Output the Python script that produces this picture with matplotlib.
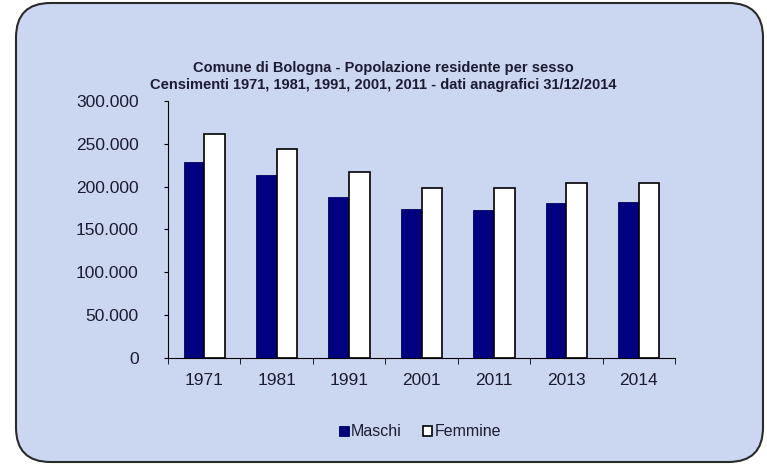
import numpy as np
import matplotlib
matplotlib.use("Agg")
from matplotlib import pyplot as plt
from matplotlib.patches import FancyBboxPatch
from matplotlib.ticker import FuncFormatter

# Data
anni = ["1971", "1981", "1991", "2001", "2011", "2013", "2014"]
maschi = [228700, 213500, 187900, 173200, 173000, 180500, 181700]
femmine = [261000, 243500, 216700, 198000, 198000, 204000, 204000]

plt.rcParams['font.family'] = ['Liberation Sans', 'DejaVu Sans']
txt = '#1c1c30'

fig = plt.figure(figsize=(7.67, 4.68), dpi=100)
fig.patch.set_facecolor('white')

# rounded background panel
bg = FancyBboxPatch((16 / 767, 6 / 468), 747 / 767, 459 / 468,
                    boxstyle="round,pad=0,rounding_size=0.045",
                    transform=fig.transFigure, facecolor='#cbd6f1',
                    edgecolor='#2a2a2a', linewidth=1.5, mutation_aspect=767 / 468,
                    zorder=-10)
fig.patches.append(bg)

ax = fig.add_axes([168 / 767, 1 - 357.7 / 468, 507 / 767, 256.7 / 468])
ax.patch.set_alpha(0)

x = np.arange(len(anni))
w = 0.285
ax.bar(x - w / 2, maschi, w, color='#000080', edgecolor='#000060', linewidth=0.6, label='Maschi')
ax.bar(x + w / 2, femmine, w, color='white', edgecolor='black', linewidth=1.2, label='Femmine')

ax.set_xlim(-0.5, len(anni) - 0.5)
ax.set_ylim(0, 300000)
ax.set_yticks(np.arange(0, 300001, 50000))
ax.yaxis.set_major_formatter(FuncFormatter(lambda v, p: f"{int(v):,}".replace(",", ".")))
ax.set_xticks(x)
ax.set_xticklabels(anni)
ax.set_xticks(np.arange(-0.5, len(anni), 1), minor=True)
ax.tick_params(axis='x', which='major', length=0, pad=11, labelsize=12.5, labelcolor=txt)
ax.tick_params(axis='x', which='minor', length=4, direction='out', color='black')
ax.tick_params(axis='y', length=3, direction='out', labelsize=12.5, labelcolor=txt, pad=18)

for s in ['top', 'right']:
    ax.spines[s].set_visible(False)
ax.spines['left'].set_color('black')
ax.spines['bottom'].set_color('black')

fig.text(0.5, 1 - 68 / 468, "Comune di Bologna - Popolazione residente per sesso",
         ha='center', va='center', fontsize=10.5, fontweight='bold', color=txt)
fig.text(0.5, 1 - 85 / 468, "Censimenti 1971, 1981, 1991, 2001, 2011 - dati anagrafici 31/12/2014",
         ha='center', va='center', fontsize=10.5, fontweight='bold', color=txt)

leg = fig.legend(loc='center', bbox_to_anchor=(420 / 767, 1 - 432 / 468), ncol=2,
                 frameon=False, fontsize=11.5, handlelength=0.6, handleheight=0.6,
                 handletextpad=0.15, columnspacing=1.3, labelcolor=txt)

fig.savefig("out.png", dpi=100, facecolor='white')
